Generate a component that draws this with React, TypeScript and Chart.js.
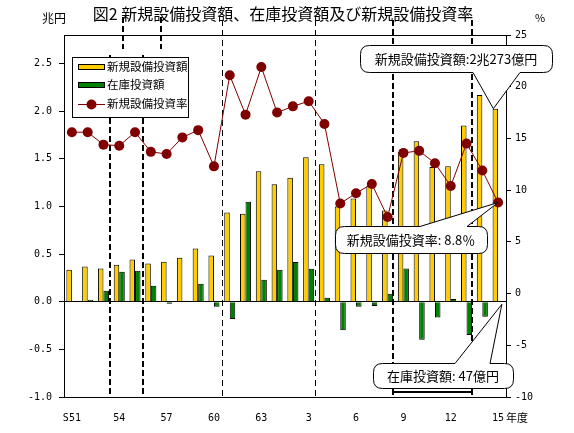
import React, { useEffect, useRef } from 'react';
import { Chart, registerables } from 'chart.js';
Chart.register(...registerables);

// fiscal years S51 (1976) .. H15 (2003)
const years = ['S51','52','53','54','55','56','57','58','59','60','61','62','63','H1','2','3','4','5','6','7','8','9','10','11','12','13','14','15'];
const tickLabels = ['S51','','','54','','','57','','','60','','','63','','','3','','','6','','','9','','','12','','','15'];

// 新規設備投資額 (兆円)
const newInvest = [0.336,0.371,0.35,0.389,0.444,0.402,0.42,0.462,0.56,0.486,0.938,0.924,1.369,1.232,1.302,1.516,1.442,1.001,1.085,1.211,0.959,1.571,1.684,1.414,1.421,1.849,2.17,2.027];
// 在庫投資額 (兆円)
const inventory = [0.0,0.02,0.115,0.315,0.325,0.168,-0.02,0.01,0.19,-0.053,-0.18,1.05,0.231,0.336,0.416,0.347,0.042,-0.30,-0.053,-0.046,0.084,0.35,-0.40,-0.165,0.03,-0.35,-0.157,0.0047];
// 新規設備投資率 (%)
const rate = [15.6,15.6,14.4,14.3,15.6,13.7,13.5,15.1,15.8,12.3,21.1,17.3,21.9,17.5,18.1,18.6,16.4,8.7,9.7,10.6,7.4,13.6,13.8,12.6,10.4,14.5,11.9,8.8];

// business-cycle markers (in category units)
const cyclePos = [2.41, 4.53, 9.49, 15.38, 20.37, 25.34];
const cycleThick = [true, true, false, false, true, true];
const cycleTopShift = [13, 18, 0, 0, 0, 0];

const seriesNames = ['新規設備投資額', '在庫投資額', '新規設備投資率'];
const titleText = '図2 新規設備投資額、在庫投資額及び新規設備投資率';
const note1 = '新規設備投資額:2兆273億円';
const note2 = '新規設備投資率: 8.8％';
const note3 = '在庫投資額: 47億円';

const YELLOW = '#FFCC00';
const GREEN = '#008000';
const MAROON = '#800000';
const CJK = '"Noto Sans CJK JP", sans-serif';

function balloon(ctx: CanvasRenderingContext2D, x: number, y: number, w: number, h: number, r: number,
  side: 'top' | 'bottom', b1: number, b2: number, tx: number, ty: number) {
  ctx.beginPath();
  ctx.moveTo(x + r, y);
  if (side === 'top') { ctx.lineTo(b1, y); ctx.lineTo(tx, ty); ctx.lineTo(b2, y); }
  ctx.lineTo(x + w - r, y);
  ctx.quadraticCurveTo(x + w, y, x + w, y + r);
  ctx.lineTo(x + w, y + h - r);
  ctx.quadraticCurveTo(x + w, y + h, x + w - r, y + h);
  if (side === 'bottom') { ctx.lineTo(b2, y + h); ctx.lineTo(tx, ty); ctx.lineTo(b1, y + h); }
  ctx.lineTo(x + r, y + h);
  ctx.quadraticCurveTo(x, y + h, x, y + h - r);
  ctx.lineTo(x, y + r);
  ctx.quadraticCurveTo(x, y, x + r, y);
  ctx.closePath();
  ctx.fillStyle = '#fff';
  ctx.fill();
  ctx.strokeStyle = '#000';
  ctx.lineWidth = 1;
  ctx.stroke();
}

const overlay = {
  id: 'overlay',
  beforeDraw(chart: any) {
    const { ctx, width, height } = chart;
    ctx.save();
    ctx.fillStyle = '#fff';
    ctx.fillRect(0, 0, width, height);
    ctx.restore();
  },
  beforeDatasetsDraw(chart: any) {
    const { ctx, chartArea: a, scales } = chart;
    const x = scales.x;
    ctx.save();
    ctx.strokeStyle = '#000';
    const pxs: number[] = [];
    cyclePos.forEach((p, i) => {
      const thick = cycleThick[i];
      const px = Math.round(x.getPixelForValue(p)) + (thick ? 0 : 0.5);
      pxs.push(px);
      ctx.lineWidth = thick ? 2 : 1;
      ctx.setLineDash(thick ? [6, 3] : [6, 4]);
      ctx.beginPath();
      const sh = cycleTopShift[i];
      if (sh) {
        ctx.moveTo(px + sh, a.top - 18);
        ctx.lineTo(px + sh, a.top + 14);
        ctx.moveTo(px, a.top + 20);
      } else {
        ctx.moveTo(px, a.top - 15);
      }
      ctx.lineTo(px, a.bottom);
      ctx.stroke();
    });
    ctx.setLineDash([]);
    ctx.lineWidth = 2;
    ctx.beginPath();
    ctx.moveTo(pxs[4], a.bottom - 5);
    ctx.lineTo(pxs[5], a.bottom - 5);
    ctx.stroke();
    ctx.restore();
  },
  afterDatasetsDraw(chart: any) {
    const { ctx, chartArea: a } = chart;
    ctx.save();
    // top border of plot
    ctx.strokeStyle = '#000';
    ctx.lineWidth = 1;
    ctx.beginPath();
    ctx.moveTo(a.left, a.top + 0.5);
    ctx.lineTo(a.right, a.top + 0.5);
    ctx.stroke();

    // legend
    const lx = a.left + 8, ly = a.top + 22;
    ctx.fillStyle = '#fff';
    ctx.fillRect(lx, ly, 116, 60);
    ctx.strokeRect(lx + 0.5, ly + 0.5, 116, 60);
    const rowY = [ly + 10, ly + 28, ly + 47];
    ctx.font = '11.5px ' + CJK;
    ctx.textBaseline = 'middle';
    ctx.textAlign = 'left';
    [YELLOW, GREEN].forEach((c, i) => {
      ctx.fillStyle = c;
      ctx.fillRect(lx + 6, rowY[i] - 3, 27, 5);
      ctx.strokeStyle = '#000';
      ctx.strokeRect(lx + 6.5, rowY[i] - 2.5, 26, 5);
    });
    ctx.strokeStyle = MAROON;
    ctx.beginPath();
    ctx.moveTo(lx + 6, rowY[2] + 0.5);
    ctx.lineTo(lx + 33, rowY[2] + 0.5);
    ctx.stroke();
    ctx.fillStyle = MAROON;
    ctx.beginPath();
    ctx.arc(lx + 19.5, rowY[2] + 0.5, 5, 0, Math.PI * 2);
    ctx.fill();
    ctx.fillStyle = '#000';
    seriesNames.forEach((n, i) => ctx.fillText(n, lx + 35, rowY[i]));

    // callouts
    const bar0 = chart.getDatasetMeta(1).data;
    const bar1 = chart.getDatasetMeta(2).data;
    const pts = chart.getDatasetMeta(0).data;
    const lastY = bar0[bar0.length - 1];
    const lastG = bar1[bar1.length - 1];
    const lastP = pts[pts.length - 1];
    ctx.font = '13px ' + CJK;
    ctx.textAlign = 'center';
    balloon(ctx, 360.5, 45.5, 192, 27, 9, 'bottom', 473, 520, lastY.x - 2, lastY.y);
    ctx.fillStyle = '#000';
    ctx.fillText(note1, 456, 59);
    balloon(ctx, 335.5, 226.5, 152, 27, 9, 'top', 420, 467, lastP.x, lastP.y);
    ctx.fillStyle = '#000';
    ctx.fillText(note2, 411, 240);
    balloon(ctx, 373.5, 363.5, 140, 25, 9, 'top', 455, 490, lastG.x + 1, lastG.y + 3);
    ctx.fillStyle = '#000';
    ctx.fillText(note3, 443, 376);

    // title & units
    ctx.font = '16px ' + CJK;
    ctx.fillText(titleText, 283, 14);
    ctx.font = '12px ' + CJK;
    ctx.fillText('兆円', 54, 18);
    ctx.font = '11px ' + CJK;
    ctx.fillText('%', 540, 18);
    ctx.fillText('年度', 517, 418);
    ctx.restore();
  },
};

export default function App() {
  const ref = useRef<HTMLCanvasElement>(null);
  useEffect(() => {
    document.body.style.margin = '0';
    const chart = new Chart(ref.current as HTMLCanvasElement, {
      type: 'bar',
      data: {
        labels: years,
        datasets: [
          {
            type: 'line',
            label: seriesNames[2],
            data: rate,
            yAxisID: 'y1',
            borderColor: MAROON,
            borderWidth: 1,
            backgroundColor: MAROON,
            pointRadius: 5,
            pointBorderWidth: 0,
            pointBackgroundColor: MAROON,
            tension: 0,
            order: 0,
          } as any,
          {
            label: seriesNames[0],
            data: newInvest,
            yAxisID: 'y',
            backgroundColor: YELLOW,
            borderColor: '#000',
            borderWidth: 1,
            categoryPercentage: 0.7,
            barPercentage: 1.0,
            order: 1,
          },
          {
            label: seriesNames[1],
            data: inventory,
            yAxisID: 'y',
            backgroundColor: GREEN,
            borderColor: '#000',
            borderWidth: 1,
            categoryPercentage: 0.7,
            barPercentage: 1.0,
            order: 2,
          },
        ],
      },
      options: {
        responsive: false,
        animation: false,
        devicePixelRatio: 1,
        layout: { padding: { top: 35, left: 0, right: 0, bottom: 0 } },
        plugins: { legend: { display: false }, tooltip: { enabled: false }, title: { display: false } },
        scales: {
          x: {
            grid: { display: false, drawTicks: false },
            border: { color: '#000' },
            ticks: {
              autoSkip: false,
              maxRotation: 0,
              padding: 15,
              color: '#000',
              font: { family: '"DejaVu Sans Mono", monospace', size: 10 },
              callback: (_v: any, i: number) => tickLabels[i],
            },
            afterFit: (s: any) => { s.height = 36; },
          },
          y: {
            position: 'left',
            min: -1,
            max: 2.8,
            ticks: {
              stepSize: 0.5,
              includeBounds: false,
              padding: 7,
              color: '#000',
              font: { family: '"DejaVu Sans Mono", monospace', size: 10 },
              callback: (v: any) => Number(v).toFixed(1),
            },
            grid: {
              color: (c: any) => (c.tick && Math.abs(c.tick.value) < 1e-9 ? '#000' : 'rgba(0,0,0,0)'),
              tickColor: '#000',
              tickLength: 5,
            },
            border: { color: '#000' },
            afterBuildTicks: (s: any) => { s.ticks = s.ticks.filter((t: any) => t.value <= 2.5 + 1e-9); },
            afterFit: (s: any) => { s.width = 64; },
          },
          y1: {
            position: 'right',
            min: -10,
            max: 25,
            ticks: {
              stepSize: 5,
              padding: 4,
              color: '#000',
              font: { family: '"DejaVu Sans Mono", monospace', size: 10 },
            },
            grid: { drawOnChartArea: false, tickColor: '#000', tickLength: 5 },
            border: { color: '#000' },
            afterFit: (s: any) => { s.width = 68; },
          },
        },
      } as any,
      plugins: [overlay],
    });
    return () => chart.destroy();
  }, []);
  return (
    <div style={{ width: 574, height: 433, position: 'relative' }}>
      <canvas ref={ref} width={574} height={433} style={{ display: 'block' }} />
    </div>
  );
}
